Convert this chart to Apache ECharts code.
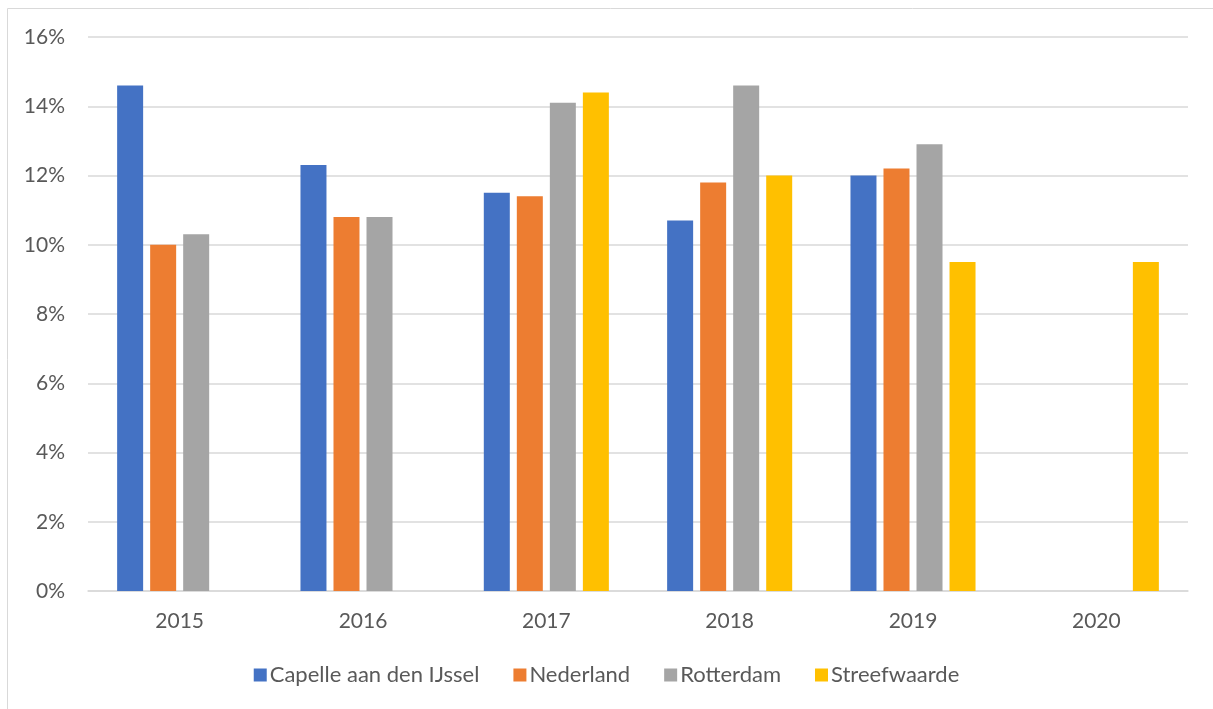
<!DOCTYPE html>
<html>
<head>
<meta charset="utf-8">
<script src="https://cdn.jsdelivr.net/npm/echarts@6/dist/echarts.min.js"></script>
<style>
  html, body { margin: 0; padding: 0; background: #fff; }
  #chart { width: 1213px; height: 709px; }
</style>
</head>
<body>
<div id="chart"></div>
<script>
const years = ['2015', '2016', '2017', '2018', '2019', '2020'];
const capelle = [14.6, 12.3, 11.5, 10.7, 12.0, null];
const nederland = [10.0, 10.8, 11.4, 11.8, 12.2, null];
const rotterdam = [10.3, 10.8, 14.1, 14.6, 12.9, null];
const streefwaarde = [null, null, 14.4, 12.0, 9.5, 9.5];

const textColor = '#595959';
const font = 'Lato, "Open Sans", sans-serif';

const myChart = echarts.init(document.getElementById('chart'));

function bar(name, data, color) {
  return {
    name: name,
    type: 'bar',
    data: data,
    barWidth: 26,
    barGap: '27%',
    itemStyle: { color: color },
  };
}

const option = {
  animation: false,
  textStyle: { fontFamily: font },
  graphic: [
    {
      type: 'rect',
      shape: { x: 7.5, y: 8.5, width: 1300, height: 800 },
      style: { fill: 'none', stroke: '#d9d9d9', lineWidth: 1 },
      silent: true,
    },
  ],
  grid: { left: 88, right: 25, top: 37, bottom: 118 },
  legend: {
    bottom: 18,
    left: 'center',
    itemWidth: 13,
    itemHeight: 13,
    itemGap: 34,
    icon: 'rect',
    textStyle: { color: textColor, fontSize: 22, fontFamily: font, padding: [0, 0, 0, -2] },
    data: ['Capelle aan den IJssel', 'Nederland', 'Rotterdam', 'Streefwaarde'],
  },
  xAxis: {
    type: 'category',
    data: years,
    axisLine: { lineStyle: { color: '#d9d9d9', width: 1.5 } },
    axisTick: { show: false },
    axisLabel: { color: textColor, fontSize: 21, margin: 20 },
  },
  yAxis: {
    type: 'value',
    min: 0,
    max: 16,
    interval: 2,
    axisLine: { show: false },
    axisTick: { show: false },
    splitLine: { lineStyle: { color: '#d9d9d9', width: 1.5 } },
    axisLabel: { color: textColor, fontSize: 21, margin: 23, formatter: '{value}%' },
  },
  series: [
    bar('Capelle aan den IJssel', capelle, '#4472C4'),
    bar('Nederland', nederland, '#ED7D31'),
    bar('Rotterdam', rotterdam, '#A5A5A5'),
    bar('Streefwaarde', streefwaarde, '#FFC000'),
  ],
};

option && myChart.setOption(option);
</script>
</body>
</html>
